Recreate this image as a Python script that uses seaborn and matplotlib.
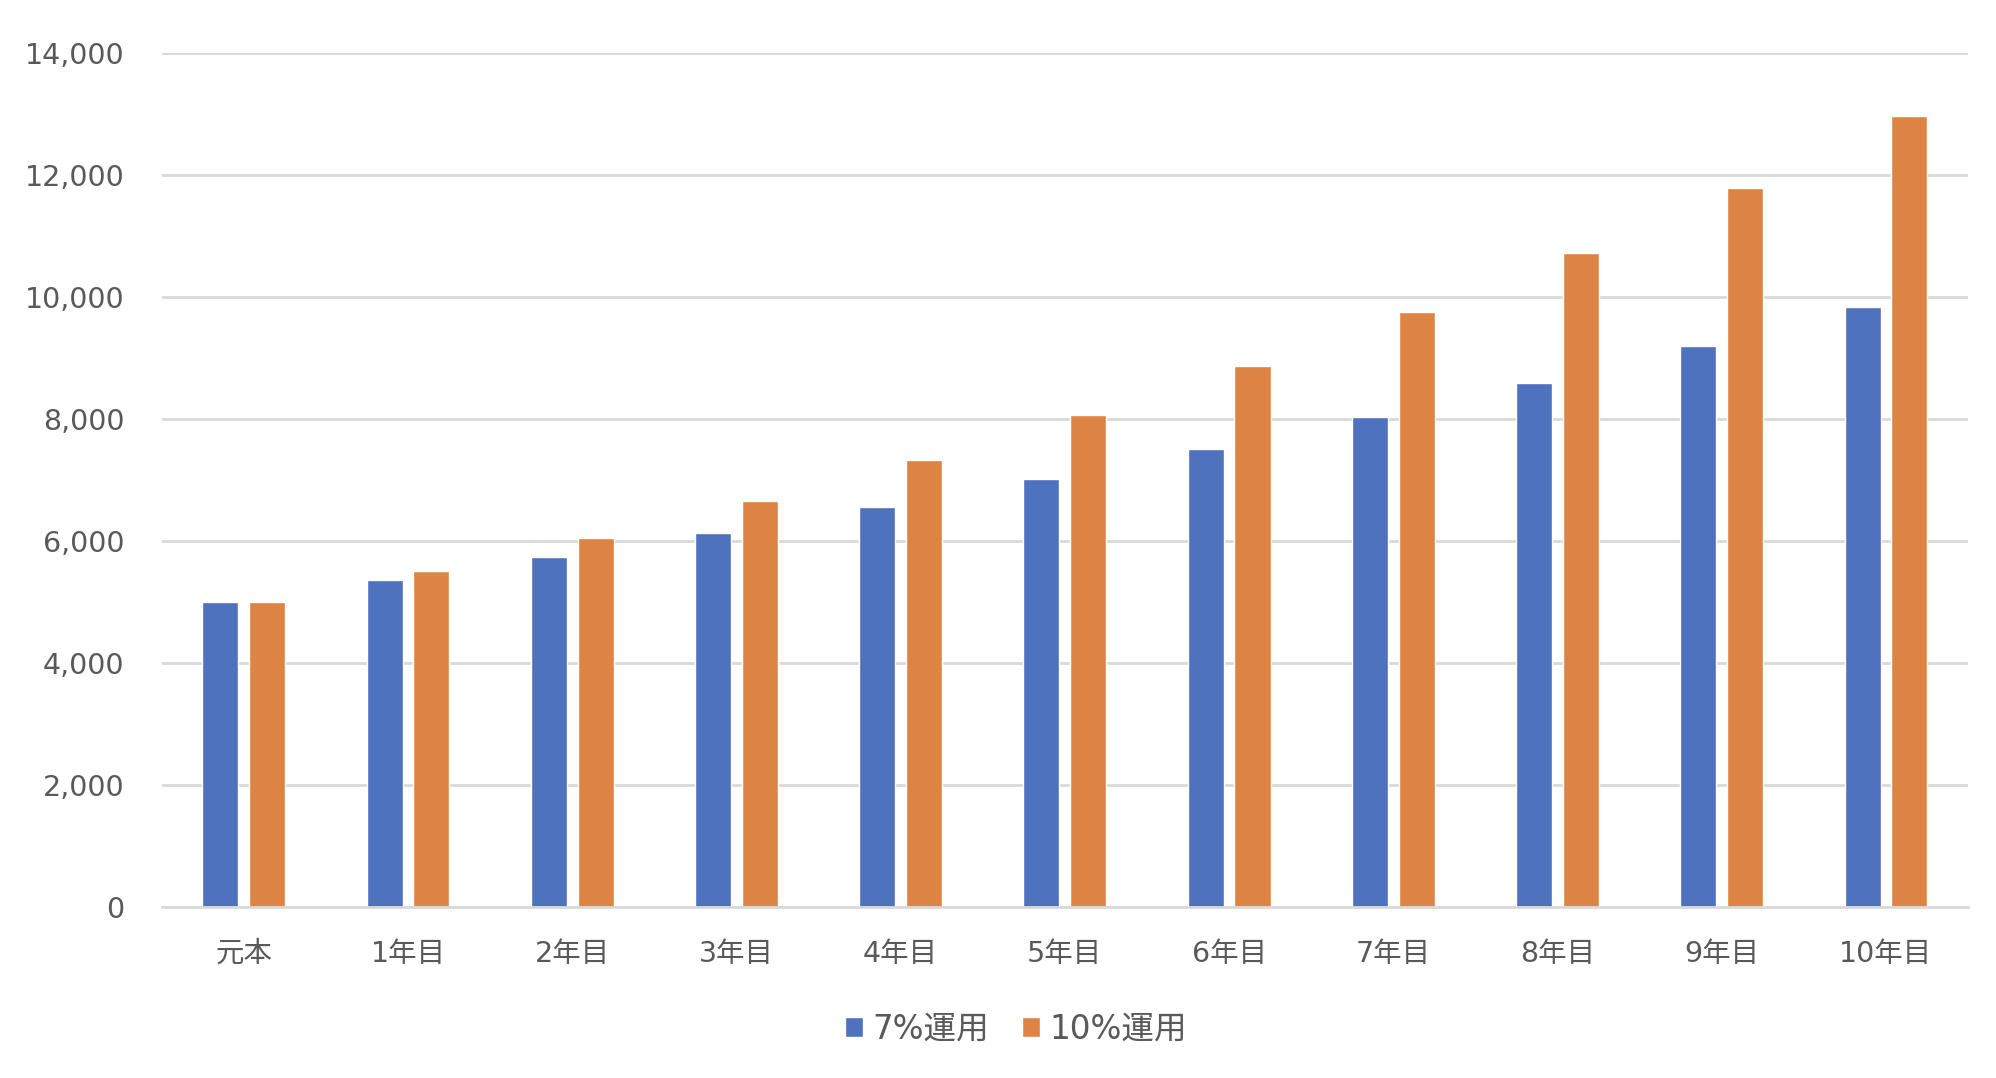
import pandas as pd
import matplotlib
matplotlib.use("Agg")
import matplotlib.pyplot as plt
import seaborn as sns
from matplotlib.ticker import FuncFormatter

# --- data ---
categories = ["元本", "1年目", "2年目", "3年目", "4年目", "5年目",
              "6年目", "7年目", "8年目", "9年目", "10年目"]
series_names = ["7%運用", "10%運用"]
values_7 = [5000, 5350, 5725, 6125, 6554, 7013, 7504, 8029, 8591, 9192, 9836]
values_10 = [5000, 5500, 6050, 6655, 7321, 8053, 8858, 9744, 10718, 11790, 12969]
y_ticks = [0, 2000, 4000, 6000, 8000, 10000, 12000, 14000]

df = pd.DataFrame({
    "期間": categories * 2,
    "金額": values_7 + values_10,
    "系列": [series_names[0]] * len(categories) + [series_names[1]] * len(categories),
})

sns.set_theme(style="white")
# Verdana-like digits from DejaVu, kanji from Noto CJK
plt.rcParams["font.family"] = ["DejaVu Sans", "Noto Sans CJK JP"]

fig = plt.figure(figsize=(19.96, 10.78), dpi=100)
ax = fig.add_axes([0.081, 0.159, 0.905, 0.792])

palette = {series_names[0]: "#4E72BE", series_names[1]: "#DD8344"}
sns.barplot(data=df, x="期間", y="金額", hue="系列", palette=palette,
            order=categories, hue_order=series_names,
            width=0.57, gap=0.23, saturation=1, ax=ax, legend=True)

ax.set_ylim(0, 14000)
ax.set_yticks(y_ticks)
ax.yaxis.set_major_formatter(FuncFormatter(lambda v, p: f"{int(v):,}"))
ax.set_xlim(-0.5, len(categories) - 0.5)
ax.grid(axis="y", color="#D9D9D9", linewidth=2)
ax.set_axisbelow(True)
for s in ["top", "right", "left"]:
    ax.spines[s].set_visible(False)
ax.spines["bottom"].set_color("#D9D9D9")
ax.spines["bottom"].set_linewidth(2)
ax.tick_params(axis="y", length=0, pad=27, labelsize=20.5, labelcolor="#595959")
ax.tick_params(axis="x", length=0, pad=24, labelsize=20.5, labelcolor="#595959")
ax.set_xlabel("")
ax.set_ylabel("")

handles, labels = ax.get_legend_handles_labels()
ax.legend(handles, labels, loc="upper center", bbox_to_anchor=(0.473, -0.09),
          ncol=2, frameon=False, fontsize=23.5, handlelength=0.55, handleheight=0.55,
          handletextpad=0.3, columnspacing=1.0, labelcolor="#595959")

fig.savefig("out.png", dpi=100)
plt.close(fig)
